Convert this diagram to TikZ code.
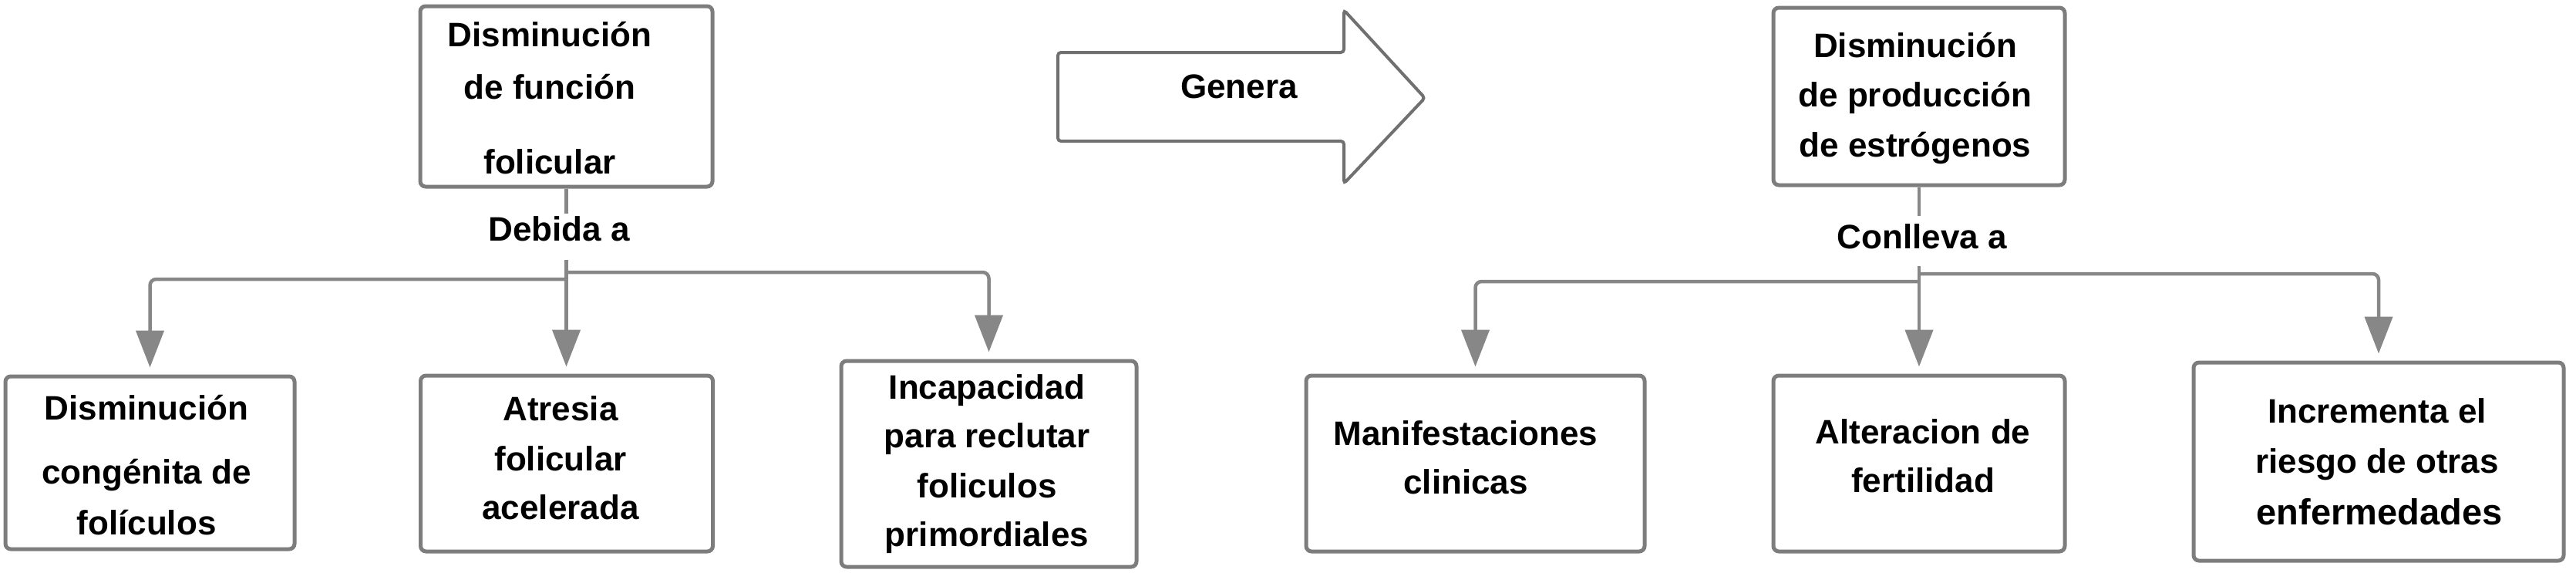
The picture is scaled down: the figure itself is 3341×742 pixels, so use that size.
\documentclass[tikz,border=0pt]{standalone}
\usepackage{fontspec}
\setmainfont{Liberation Sans}
\usetikzlibrary{arrows.meta}
\definecolor{bordergray}{RGB}{125,125,125}
\definecolor{linegray}{RGB}{135,135,135}
\definecolor{arrowgray}{RGB}{112,112,112}
\tikzset{
  box/.style={draw=bordergray, line width=5pt, rounded corners=7pt, fill=white,
    inner sep=0pt, rectangle},
  txt/.style={anchor=base, inner sep=0pt, font=\fontsize{44}{53}\selectfont\bfseries},
  bigtxt/.style={txt, font=\fontsize{47}{56}\selectfont\bfseries},
  conn/.style={draw=linegray, line width=4.5pt, rounded corners=8pt},
  arr/.style={-{Triangle[length=48pt,width=36pt]}, shorten >=9pt},
  bigarrow/.style={draw=arrowgray, line width=4pt, rounded corners=4pt, fill=white}
}
\begin{document}
\begin{tikzpicture}[x=1pt,y=-1pt]
\useasboundingbox (0,0) rectangle (3341,742);
% top boxes
\node[box, minimum width=379pt, minimum height=234pt] (t1) at (734.5,125) {};
\node[box, minimum width=378pt, minimum height=230pt] (t2) at (2489,125) {};
% bottom boxes
\node[box, minimum width=375pt, minimum height=224pt] (b1) at (194.5,600) {};
\node[box, minimum width=379pt, minimum height=228pt] (b2) at (735,601) {};
\node[box, minimum width=383pt, minimum height=267pt] (b3) at (1282.5,601.5) {};
\node[box, minimum width=439pt, minimum height=228pt] (b4) at (1913.5,601) {};
\node[box, minimum width=378pt, minimum height=228pt] (b5) at (2489,601) {};
\node[box, minimum width=480pt, minimum height=257pt] (b6) at (3085,598.5) {};
% big arrow
\draw[bigarrow] (1372,68) -- (1743,68) -- (1743,13) -- (1848,127) -- (1743,238)
  -- (1743,183) -- (1372,183) -- cycle;
\node[txt] (genera) at (1607,127) {Genera};
% texts
\node[txt] (t1a) at (713,60) {Disminución};
\node[txt] (t1b) at (713,128) {de función};
\node[txt] (t1c) at (713,225) {folicular};
\node[txt] (t2a) at (2484,74) {Disminución};
\node[txt] (t2b) at (2484,138) {de producción};
\node[txt] (t2c) at (2484,203) {de estrógenos};
\node[txt] (b1a) at (190,544) {Disminución};
\node[txt] (b1b) at (190,627) {congénita de};
\node[txt] (b1c) at (190,693) {folículos};
\node[txt] (b2a) at (727,545) {Atresia};
\node[txt] (b2b) at (727,610) {folicular};
\node[txt] (b2c) at (727,673) {acelerada};
\node[txt] (b3a) at (1280,517) {Incapacidad};
\node[txt] (b3b) at (1280,580) {para reclutar};
\node[txt] (b3c) at (1280,645) {foliculos};
\node[txt] (b3d) at (1280,708) {primordiales};
\node[txt] (b4a) at (1901,577) {Manifestaciones};
\node[txt] (b4b) at (1901,640) {clinicas};
\node[txt] (b5a) at (2494,575) {Alteracion de};
\node[txt] (b5b) at (2494,638) {fertilidad};
\node[txt] (b6a) at (3083,548) {Incrementa el};
\node[txt] (b6b) at (3083,613) {riesgo de otras};
\node[bigtxt] (b6c) at (3086,680) {enfermedades};
% connector labels
\node[txt, text height=35pt, text depth=25pt] (dl) at (725,312) {Debida a};
\node[txt, text height=42pt, text depth=23pt] (cl) at (2493,322) {Conlleva a};
% left tree
\coordinate (jl) at (735,362);
\coordinate (jr) at (735,353);
\draw[conn] (t1.south) -- (t1.south |- dl.north);
\draw[conn,arr] (t1.south |- dl.south) -- (t1.south |- b2.north);
\draw[conn,arr] (jl) -| (b1.north);
\draw[conn,arr] (jr) -| (b3.north);
% right tree
\coordinate (jl2) at (2489,365);
\coordinate (jr2) at (2489,355);
\draw[conn] (t2.south) -- (t2.south |- cl.north);
\draw[conn,arr] (t2.south |- cl.south) -- (t2.south |- b5.north);
\draw[conn,arr] (jl2) -| (b4.north);
\draw[conn,arr] (jr2) -| (b6.north);
\end{tikzpicture}
\end{document}
